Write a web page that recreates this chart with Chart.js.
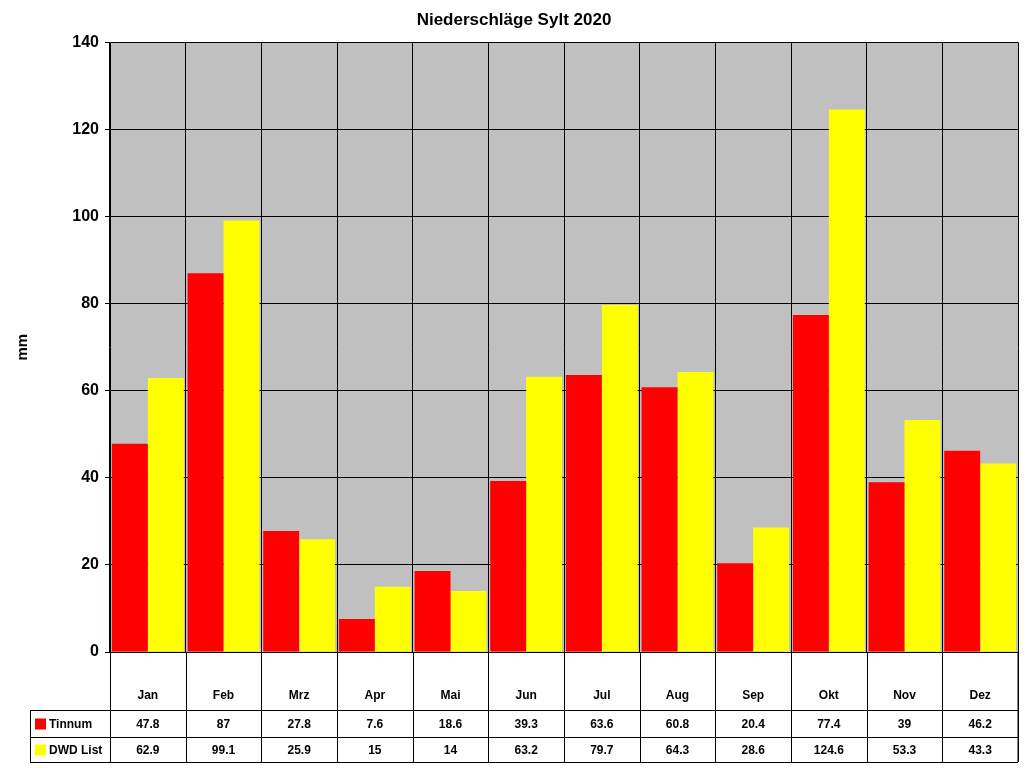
<!DOCTYPE html>
<html><head><meta charset="utf-8">
<script src="https://cdn.jsdelivr.net/npm/chart.js@4"></script>
<style>body{margin:0;background:#fff}</style>
</head><body>
<canvas id="c" width="1024" height="768"></canvas>
<script>
var months = ['Jan','Feb','Mrz','Apr','Mai','Jun','Jul','Aug','Sep','Okt','Nov','Dez'];
var tinnum = [47.8, 87, 27.8, 7.6, 18.6, 39.3, 63.6, 60.8, 20.4, 77.4, 39, 46.2];
var dwdList = [62.9, 99.1, 25.9, 15, 14, 63.2, 79.7, 64.3, 28.6, 124.6, 53.3, 43.3];
var seriesNames = ['Tinnum', 'DWD List'];
var seriesColors = ['#FF0000', '#FFFF00'];

var FONT = 'Arial, "Liberation Sans", sans-serif';

var tablePlugin = {
    id: 'dataTable',
    beforeDraw: function (chart) {
        var a = chart.chartArea, ctx = chart.ctx;
        ctx.save();
        ctx.fillStyle = '#C0C0C0';
        ctx.fillRect(a.left, a.top, a.right - a.left, a.bottom - a.top);
        ctx.restore();
    },
    afterDraw: function (chart) {
        var a = chart.chartArea, ctx = chart.ctx;
        var w = (a.right - a.left) / months.length;
        var top = a.bottom, r1 = 710, r2 = 737, bot = 762, lx = 30;
        ctx.save();
        ctx.strokeStyle = '#000';
        ctx.lineWidth = 1;
        ctx.beginPath();
        for (var i = 0; i <= months.length; i++) {
            var x = Math.round(a.left + i * w) + 0.5;
            ctx.moveTo(x, top); ctx.lineTo(x, bot);
        }
        ctx.moveTo(a.right, top); ctx.lineTo(a.right, bot);
        ctx.moveTo(lx + 0.5, r1); ctx.lineTo(lx + 0.5, bot);
        [r1, r2, bot].forEach(function (y) {
            ctx.moveTo(lx, y + 0.5); ctx.lineTo(a.right, y + 0.5);
        });
        ctx.stroke();
        ctx.fillStyle = '#000';
        ctx.font = 'bold 12px ' + FONT;
        ctx.textAlign = 'center';
        ctx.textBaseline = 'middle';
        var rows = [tinnum, dwdList], ys = [(r1 + r2) / 2 + 1, (r2 + bot) / 2 + 1];
        months.forEach(function (m, i) {
            var cx = a.left + (i + 0.5) * w;
            ctx.fillText(m, cx, 696);
            rows.forEach(function (r, j) { ctx.fillText(String(r[i]), cx, ys[j]); });
        });
        ctx.textAlign = 'left';
        seriesNames.forEach(function (n, j) {
            ctx.fillStyle = seriesColors[j];
            ctx.fillRect(35, ys[j] - 6, 11, 11);
            ctx.fillStyle = '#000';
            ctx.fillText(n, 49, ys[j]);
        });
        ctx.restore();
    }
};

new Chart(document.getElementById('c'), {
    type: 'bar',
    data: {
        labels: months,
        datasets: [
            { label: seriesNames[0], data: tinnum, backgroundColor: seriesColors[0] },
            { label: seriesNames[1], data: dwdList, backgroundColor: seriesColors[1] }
        ]
    },
    options: {
        responsive: false,
        animation: false,
        layout: { padding: { left: 10, right: 6, bottom: 116, top: 0 } },
        datasets: { bar: { categoryPercentage: 0.95, barPercentage: 1 } },
        plugins: {
            legend: { display: false },
            tooltip: { enabled: false },
            title: {
                display: true, text: 'Niederschläge Sylt 2020', color: '#000',
                font: { family: FONT, size: 17, weight: 'bold' },
                padding: { top: 10, bottom: 12 }
            }
        },
        scales: {
            x: {
                ticks: { display: false },
                grid: { color: '#000', drawTicks: false, offset: true },
                border: { color: '#000' },
                afterFit: function (s) { s.height = 0; }
            },
            y: {
                min: 0, max: 140,
                ticks: { stepSize: 20, color: '#000', padding: 6, font: { family: FONT, size: 16, weight: 'bold' } },
                grid: { color: '#000', drawTicks: true, tickLength: 5 },
                border: { color: '#000' },
                title: { display: true, text: 'mm', color: '#000', font: { family: FONT, size: 15, weight: 'bold' } },
                afterFit: function (s) { s.width = 100; }
            }
        }
    },
    plugins: [tablePlugin]
});
</script>
</body></html>
